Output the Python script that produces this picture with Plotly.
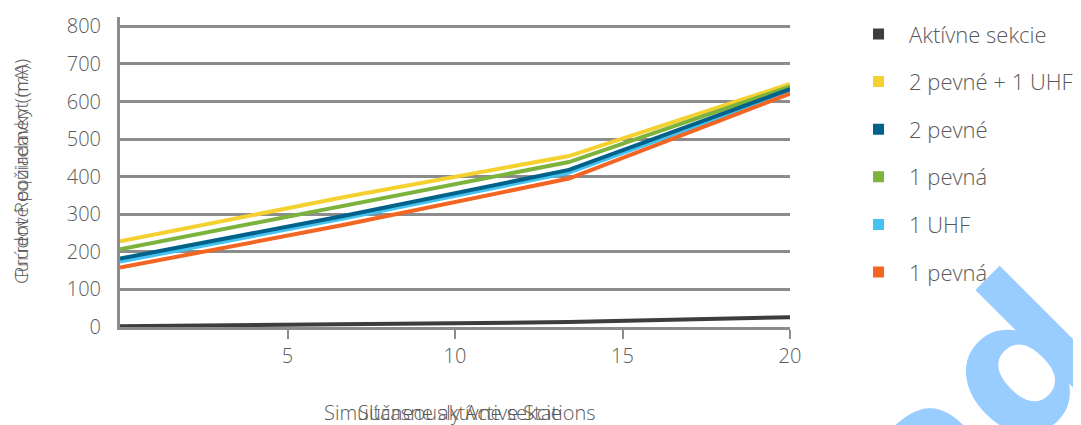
import plotly.graph_objects as go

# ── Data ──────────────────────────────────────────────────────────────────────

stations = [0, 6.7, 13.4, 20]

active_sections = [2, 7, 13, 26]
fixed2_uhf1     = [228, 346, 455, 647]
fixed2          = [182, 296, 418, 633]
fixed1_green    = [207, 324, 439, 640]
uhf1            = [174, 289, 411, 626]
fixed1_orange   = [158, 272, 395, 621]

x_ticks = [5, 10, 15, 20]
y_ticks = [0, 100, 200, 300, 400, 500, 600, 700, 800]

# legend order
series = [
    ("Aktívne sekcie",  active_sections, "#3d3d3d"),
    ("2 pevné + 1 UHF", fixed2_uhf1,     "#f5d130"),
    ("2 pevné",         fixed2,          "#00628b"),
    ("1 pevná",         fixed1_green,    "#7bb33c"),
    ("1 UHF",           uhf1,            "#45c2ef"),
    ("1 pevná",         fixed1_orange,   "#f26522"),
]
draw_order = [1, 3, 4, 2, 5, 0]   # back → front

GRAY = "#8c8c8c"
TEXT = "#5a5a5a"
FONT = "Open Sans"

fig = go.Figure()

for i in draw_order:
    name, ys, color = series[i]
    fig.add_trace(go.Scatter(
        x=stations, y=ys, mode="lines", name=name,
        line=dict(color=color, width=4),
        showlegend=False, hoverinfo="x+y+name",
    ))

# square legend swatches
for i, (name, ys, color) in enumerate(series):
    fig.add_trace(go.Scatter(
        x=[None], y=[None], mode="markers", name=name,
        marker=dict(symbol="square", size=11, color=color),
        legendgroup=f"g{i}", showlegend=True,
    ))

# axis titles (English and Slovak overlaid, as in the source)
for txt in ("Simultaneously Active Stations", "Súčasne aktívne sekcie"):
    fig.add_annotation(text=txt, xref="paper", yref="paper", x=0.507, y=-0.325,
                       showarrow=False,
                       font=dict(size=20, color=TEXT, family=FONT, weight=300))
for txt in ("Current Requirement (mA)", "Prúdové požiadavky (mA)"):
    fig.add_annotation(text=txt, xref="paper", yref="paper", x=-0.17, y=0.5,
                       textangle=-90, showarrow=False,
                       font=dict(size=19, color=TEXT, family=FONT, weight=300))

# watermark
fig.add_annotation(text="<b>ad</b>", xref="paper", yref="paper", x=1.54, y=-0.835,
                   textangle=-45, showarrow=False,
                   font=dict(size=195, color="#99ccff", family="DejaVu Sans"))

fig.update_layout(
    width=1081, height=425,
    margin=dict(l=112, r=299, t=9, b=106, autoexpand=False),
    paper_bgcolor="white", plot_bgcolor="white",
    font=dict(family=FONT, color=TEXT),
    legend=dict(
        x=1.0866, y=1.0123, xanchor="left", yanchor="top",
        font=dict(size=22, color=TEXT, family=FONT, weight=300),
        tracegroupgap=16, itemwidth=51, maxheight=420,
        bgcolor="rgba(0,0,0,0)",
    ),
)

fig.update_xaxes(
    range=[0, 20], tickvals=x_ticks, automargin=False,
    showgrid=False, zeroline=False,
    showline=True, linecolor=GRAY, linewidth=3,
    ticks="outside", ticklen=9, tickwidth=2, tickcolor=GRAY,
    tickfont=dict(size=20, color=TEXT, family=FONT, weight=300),
)
fig.update_yaxes(
    range=[0, 825], tickvals=y_ticks, automargin=False,
    showgrid=True, gridcolor=GRAY, gridwidth=3,
    zeroline=False,
    showline=True, linecolor=GRAY, linewidth=3,
    ticks="", ticklabelstandoff=12,
    tickfont=dict(size=20, color=TEXT, family=FONT, weight=300),
)

fig.write_html("out.html")
